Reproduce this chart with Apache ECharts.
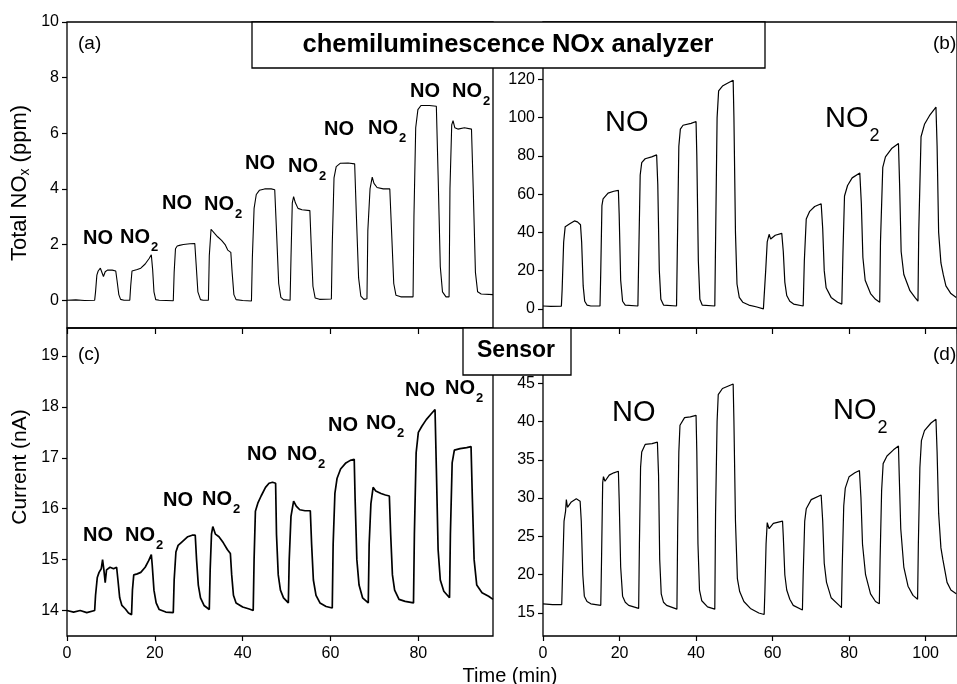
<!DOCTYPE html>
<html>
<head>
<meta charset="utf-8">
<script src="https://cdn.jsdelivr.net/npm/echarts@6/dist/echarts.min.js"></script>
<style>
  html, body { margin: 0; padding: 0; background: #fff; }
  #chart { width: 957px; height: 684px; }
</style>
</head>
<body>
<div id="chart"></div>
<script>
// ---- Data: [time (min), value] ----
// (a) chemiluminescence analyzer, alternating NO / NO2 pulses, total NOx in ppm
const analyzerLow = [
  [0,0],[2,0.01],[4,-0.01],[6.3,0],
  [6.5,0.3],[6.8,0.9],[7.1,1.05],[7.6,1.15],[7.9,1.12],[8.3,0.85],[8.7,1.02],[9.2,1.08],[10.3,1.08],[11.1,1.05],[11.4,0.7],[11.8,0.2],[12.2,0.03],[13,0],[14.3,0],
  [14.5,0.5],[14.8,1.05],[15.2,1.12],[16,1.1],[16.8,1.15],[17.8,1.3],[18.7,1.5],[19.2,1.63],[19.5,1.1],[19.8,0.3],[20.2,0.02],[21,0],[24.2,-0.02],
  [24.4,1.0],[24.7,1.85],[25.1,1.95],[25.6,1.97],[26.5,2.0],[28,2.03],[29.1,2.04],[29.4,1.3],[29.8,0.3],[30.4,0.02],[31,0],[32.2,0],
  [32.4,1.6],[32.8,2.55],[33.1,2.6],[33.6,2.4],[34.3,2.28],[35.2,2.15],[36,2.0],[36.6,1.8],[37.3,1.72],[37.6,1.0],[38,0.2],[38.5,0.02],[40,-0.01],[42,-0.03],
  [42.2,1.5],[42.6,3.3],[43.1,3.8],[43.8,3.95],[45,4.0],[46.5,4.0],[47.3,3.97],[47.7,2.5],[48.2,0.6],[48.7,0.1],[49.3,0.02],[50.8,0],
  [51,1.5],[51.3,3.5],[51.6,3.72],[52,3.5],[52.6,3.3],[53.5,3.25],[55.3,3.22],[55.6,2.0],[56,0.5],[56.5,0.08],[57.5,0.03],[60.2,0.04],
  [60.4,2],[60.8,4.4],[61.3,4.8],[62.2,4.92],[64,4.93],[65.5,4.9],[65.9,3.0],[66.4,0.8],[66.9,0.15],[67.6,0.03],[68.3,0.05],
  [68.5,2.5],[69.0,4.0],[69.5,4.42],[69.9,4.2],[70.6,4.05],[72,4.0],[73.5,4.0],[73.9,2.5],[74.4,0.6],[74.9,0.18],[76,0.12],[78.8,0.12],
  [79.0,3],[79.4,6.2],[79.9,6.85],[80.6,7.0],[82.5,7.0],[84.1,6.97],[84.5,4.5],[85,1.2],[85.5,0.3],[86.3,0.12],[87,0.12],
  [87.2,4],[87.6,6.3],[87.9,6.45],[88.3,6.2],[89,6.15],[90.5,6.2],[92.1,6.15],[92.5,4.0],[93,1.0],[93.5,0.3],[94.3,0.22],[97,0.2]
];

// (b) chemiluminescence analyzer, NO series then NO2 series, ppm
const analyzerHigh = [
  [0,1.5],[2,1.3],[4.8,1.4],
  [5.0,10],[5.4,35],[5.8,43],[6.2,42.5],[7,44.5],[8.2,46],[9,45.5],[9.8,44],[10.1,35],[10.5,12],[10.9,4],[11.5,2],[12.5,1.5],[14.9,1.5],
  [15.1,20],[15.4,54],[15.7,57.5],[16,58.5],[17,60.5],[18.5,61.5],[19.7,62],[19.9,50],[20.3,15],[20.8,4],[21.5,2],[24.8,1.5],
  [25,25],[25.4,70],[25.8,76.5],[26.7,78.5],[28.4,79.5],[29.7,80.5],[30.0,65],[30.4,20],[30.8,5],[31.5,2],[34.9,1.5],
  [35.1,30],[35.5,85],[35.9,94],[36.6,96],[38.7,97],[40,98],[40.2,80],[40.6,25],[41,5],[41.6,2],[44.9,1.5],
  [45.1,35],[45.5,100],[45.9,114],[46.9,116.5],[48.2,118],[49.7,119.5],[49.9,100],[50.3,40],[50.7,13],[51.3,6],[52.2,3.5],[53.8,2],[55.9,1],[57.6,0],
  [58.2,20],[58.6,35],[59.1,39],[59.5,36.5],[60.7,38.5],[62.4,39.5],[62.8,30],[63.2,14],[63.7,7],[64.5,4],[65.5,2.5],[68,1.5],
  [68.3,25],[68.8,47],[69.7,51],[71,53.5],[72.7,55],[73.1,42],[73.5,20],[74,11],[75.3,6],[77,3.5],[78.1,2.5],
  [78.4,30],[78.8,59],[79.6,64.5],[80.8,68.5],[82.8,71],[83.2,55],[83.6,27],[84.2,15],[85.6,8],[86.9,5],[88,3.5],
  [88.2,35],[88.8,74],[89.5,79.5],[91.2,84],[92.9,86.5],[93.2,65],[93.6,30],[94.3,18],[95.9,9.5],[97.2,6],[98,4],
  [98.2,40],[98.8,90],[99.7,96.5],[101,101],[102.7,105.5],[103,85],[103.4,40],[104,24],[104.6,18],[105.3,12],[106.6,8],[108,6]
];

// (c) sensor current, alternating NO / NO2 pulses, nA
const sensorLow = [
  [0,14.0],[1.5,13.97],[3,14.0],[4.5,13.96],[6.3,14.0],
  [6.5,14.3],[6.9,14.65],[7.3,14.75],[7.8,14.82],[8.1,15.0],[8.4,14.8],[8.7,14.55],[9.0,14.8],[9.8,14.85],[10.6,14.82],[11.3,14.85],[11.6,14.6],[12.0,14.25],[12.5,14.1],[13.3,14.03],[14.0,13.95],[14.7,13.92],
  [14.9,14.4],[15.2,14.7],[16,14.72],[16.8,14.75],[17.8,14.85],[18.6,14.98],[19.2,15.1],[19.4,14.9],[19.8,14.4],[20.3,14.15],[21,14.02],[22.5,13.97],[24.2,13.96],
  [24.4,14.6],[24.8,15.15],[25.3,15.28],[26.2,15.35],[27.5,15.45],[28.5,15.48],[29.2,15.48],[29.5,15.0],[29.9,14.5],[30.4,14.25],[31.2,14.1],[32.4,14.02],
  [32.6,14.8],[32.9,15.5],[33.2,15.65],[33.8,15.5],[34.6,15.45],[35.6,15.33],[36.5,15.2],[37.2,15.12],[37.5,14.7],[37.9,14.3],[38.5,14.15],[40,14.07],[41.5,14.03],[42.4,14.0],
  [42.6,15.0],[42.9,15.95],[43.5,16.12],[44.2,16.25],[45.2,16.42],[46.0,16.5],[46.8,16.52],[47.5,16.5],[47.7,15.5],[48.1,14.7],[48.6,14.4],[49.3,14.25],[50.4,14.15],
  [50.6,15.0],[51.0,15.85],[51.6,16.15],[52.2,16.05],[53,15.98],[54.2,15.96],[55.4,15.96],[55.7,15.3],[56.1,14.6],[56.7,14.3],[57.6,14.15],[59,14.08],[60.4,14.05],
  [60.6,15.3],[61.0,16.3],[61.5,16.6],[62.3,16.78],[63.5,16.9],[64.5,16.95],[65.4,16.97],[65.6,16.2],[66.0,15.0],[66.5,14.5],[67.3,14.25],[68.6,14.15],
  [68.8,15.3],[69.2,16.1],[69.7,16.42],[70.3,16.35],[71.5,16.3],[72.5,16.27],[73.4,16.25],[73.7,15.5],[74.1,14.7],[74.6,14.4],[75.6,14.22],[77,14.18],[78.9,14.15],
  [79.1,15.5],[79.5,17.1],[80,17.5],[80.8,17.62],[81.8,17.75],[82.8,17.85],[83.8,17.95],[84.1,16.8],[84.5,15.2],[85,14.6],[85.8,14.38],[87.1,14.25],
  [87.3,15.5],[87.7,16.9],[88.2,17.15],[89.5,17.18],[91,17.2],[92,17.22],[92.3,16.2],[92.7,15.0],[93.3,14.5],[94.5,14.35],[96,14.28],[97,14.22]
];

// (d) sensor current, NO series then NO2 series, nA
const sensorHigh = [
  [0,16.2],[2.5,16.1],[4.9,16.1],
  [5.1,20],[5.5,27],[5.9,28.3],[6.1,29.8],[6.4,28.8],[7.4,29.5],[8.7,29.9],[9.7,29.6],[10.0,27],[10.4,20],[10.8,17.2],[11.5,16.5],[12.5,16.2],[15.1,16.0],
  [15.3,22],[15.6,32],[15.8,32.8],[16.2,32.2],[17.3,33],[18.5,33.3],[19.7,33.5],[19.9,30],[20.3,21],[20.8,17.2],[21.5,16.4],[22.4,16],[25,15.6],
  [25.2,24],[25.5,34],[25.8,36],[26.7,37],[28.5,37.1],[29.9,37.3],[30.2,33],[30.5,22],[30.9,17.5],[31.5,16.4],[32.3,16],[35,15.5],
  [35.2,26],[35.5,36],[35.8,39.5],[37,40.5],[38.5,40.6],[40,40.8],[40.2,36],[40.5,24],[40.9,18],[41.5,16.6],[43,15.8],[44.9,15.5],
  [45.1,28],[45.5,40],[45.8,43.5],[46.9,44.3],[48.3,44.6],[49.7,44.9],[49.9,40],[50.3,27],[50.8,19.5],[51.4,17.8],[52.5,16.5],[54.2,15.6],[56.4,15],[57.8,14.8],
  [58,18],[58.3,24],[58.6,26.8],[59.1,26],[60.2,26.7],[62.6,27],[62.8,25],[63.2,20],[63.7,18],[64.5,16.8],[65.4,16],[67.8,15.4],
  [68,20],[68.4,27],[68.8,28.6],[70.1,29.8],[72.7,30.4],[73.1,27],[73.5,21.5],[74.1,19],[75.3,17],[77.4,16],[78,15.7],
  [78.2,21],[78.6,29],[79,31.3],[80,32.8],[81.5,33.3],[82.7,33.6],[83.1,30],[83.5,24],[84.3,20],[85.6,17.5],[86.9,16.5],[87.9,16.2],
  [88.1,22],[88.5,31],[88.9,34.5],[89.9,35.5],[91.6,36.3],[92.9,36.8],[93.1,33],[93.5,26],[94.3,21],[95.4,18.5],[96.7,17.3],[97.9,16.8],
  [98.1,24],[98.5,34],[98.9,37.5],[99.7,38.8],[101.4,39.8],[102.7,40.3],[103,36],[103.4,28],[104,23.5],[104.5,22],[105.6,19],[106.6,18],[108,17.5]
];

// Tick values for each y axis
const ticksA = [0, 2, 4, 6, 8, 10];
const ticksB = [0, 20, 40, 60, 80, 100, 120];
const ticksC = [14, 15, 16, 17, 18, 19];
const ticksD = [15, 20, 25, 30, 35, 40, 45];

// ---- Layout ----
const FONT = '"Liberation Sans", Arial, Helvetica, sans-serif';
const INK = '#000';
const measureCtx = document.createElement('canvas').getContext('2d');
function textWidth(str, size, weight) {
  measureCtx.font = (weight || 'normal') + ' ' + size + 'px ' + FONT;
  return measureCtx.measureText(str).width;
}
function txt(x, y, str, size, weight, align) {
  return {
    type: 'text', x: x, y: y, z: 100,
    style: {
      text: str, fill: INK, fontSize: size, fontWeight: weight || 'normal', fontFamily: FONT,
      textAlign: align || 'left', textVerticalAlign: 'middle', verticalAlign: 'middle'
    }
  };
}
// Chemical formula with a subscript: main text from the left edge, subscript lowered
function formula(left, midY, main, sub, size, subSize, subDy, weight) {
  const items = [txt(left, midY, main, size, weight)];
  if (sub) {
    const w = textWidth(main, size, weight);
    items.push(txt(left + w + 1, midY + subDy, sub, subSize, weight));
  }
  return items;
}
// Vertical axis title (reads bottom to top) built from pieces so the subscript can be lowered
function verticalTitle(cx, cy, pieces, size) {
  let total = 0;
  pieces.forEach(p => { p.w = textWidth(p.t, p.size || size); total += p.w; });
  let x = -total / 2;
  const children = pieces.map(p => {
    const el = txt(x, p.dy || 0, p.t, p.size || size);
    x += p.w;
    return el;
  });
  return { type: 'group', x: cx, y: cy, rotation: Math.PI / 2, z: 100, children: children };
}

const grids = [
  { left: 67, top: 22, width: 426, height: 306 },   // (a)
  { left: 543, top: 22, width: 420, height: 306 },  // (b)
  { left: 67, top: 328, width: 426, height: 308 },  // (c)
  { left: 543, top: 328, width: 420, height: 308 }  // (d)
].map(g => Object.assign(g, { show: true, borderColor: INK, borderWidth: 1.3, backgroundColor: 'transparent', containLabel: false }));

const labelStyle = { color: INK, fontSize: 16, fontFamily: FONT };
function hiddenX(grid, max) {
  return { gridIndex: grid, type: 'value', min: 0, max: max, show: false };
}
function bottomX(grid, max) {
  return {
    gridIndex: grid, type: 'value', min: 0, max: max, interval: 20, position: 'bottom',
    axisLine: { show: false }, splitLine: { show: false },
    axisTick: { show: true, inside: false, length: 5, lineStyle: { color: INK, width: 1.2 } },
    axisLabel: Object.assign({ margin: 10, showMaxLabel: false }, labelStyle)
  };
}
function topX(grid, max) {
  return {
    gridIndex: grid, type: 'value', min: 0, max: max, interval: 20, position: 'top',
    axisLine: { show: false }, splitLine: { show: false },
    axisTick: { show: true, inside: true, length: 6, lineStyle: { color: INK, width: 1.2 } },
    axisLabel: { show: false }
  };
}
function leftY(grid, min, max, ticks) {
  return {
    gridIndex: grid, type: 'value', min: min, max: max,
    axisLine: { show: false }, splitLine: { show: false },
    axisTick: { show: true, inside: false, length: 5, customValues: ticks, lineStyle: { color: INK, width: 1.2 } },
    axisLabel: Object.assign({ margin: 8, customValues: ticks, showMinLabel: true, showMaxLabel: true }, labelStyle)
  };
}

function lineSeries(x, y, data, width) {
  return {
    type: 'line', xAxisIndex: x, yAxisIndex: y, data: data,
    showSymbol: false, symbol: 'none', smooth: false, clip: true,
    lineStyle: { color: INK, width: width }, itemStyle: { color: INK },
    emphasis: { disabled: true }, silent: true
  };
}

const graphics = [
  // header boxes
  { type: 'rect', z: 90, shape: { x: 252, y: 22, width: 513, height: 46 },
    style: { fill: '#fff', stroke: INK, lineWidth: 1.3 } },
  txt(508, 45, 'chemiluminescence NOx analyzer', 25.5, 'bold', 'center'),
  { type: 'rect', z: 90, shape: { x: 463, y: 328, width: 108, height: 47 },
    style: { fill: '#fff', stroke: INK, lineWidth: 1.3 } },
  txt(516, 351, 'Sensor', 23, 'bold', 'center'),
  // panel tags
  txt(78, 44, '(a)', 19), txt(933, 44, '(b)', 19),
  txt(78, 355, '(c)', 19), txt(933, 355, '(d)', 19),
  // axis titles
  verticalTitle(20, 183, [{ t: 'Total NO' }, { t: 'x', size: 14, dy: 5 }, { t: ' (ppm)' }], 22),
  verticalTitle(20, 467, [{ t: 'Current (nA)' }], 21),
  txt(510, 676, 'Time (min)', 20, 'normal', 'center')
];

// gas labels over the pulses in (a) and (c)
const smallLabels = [
  [83, 238, ''], [120, 237, '2'], [162, 203, ''], [204, 204, '2'], [245, 163, ''], [288, 166, '2'],
  [324, 129, ''], [368, 128, '2'], [410, 91, ''], [452, 91, '2'],
  [83, 535, ''], [125, 535, '2'], [163, 500, ''], [202, 499, '2'], [247, 454, ''], [287, 454, '2'],
  [328, 425, ''], [366, 423, '2'], [405, 390, ''], [445, 388, '2']
];
smallLabels.forEach(l => graphics.push(...formula(l[0], l[1], 'NO', l[2], 20, 13, 10, 'bold')));
// gas labels in (b) and (d)
graphics.push(...formula(605, 123, 'NO', '', 29, 18, 17));
graphics.push(...formula(825, 119, 'NO', '2', 29, 18, 17));
graphics.push(...formula(612, 413, 'NO', '', 29, 18, 17));
graphics.push(...formula(833, 411, 'NO', '2', 29, 18, 17));

const chart = echarts.init(document.getElementById('chart'), null, { renderer: 'canvas', width: 957, height: 684 });
chart.setOption({
  animation: false,
  backgroundColor: '#fff',
  textStyle: { fontFamily: FONT },
  grid: grids,
  xAxis: [
    hiddenX(0, 97), hiddenX(1, 108.2),
    bottomX(2, 97), topX(2, 97),
    bottomX(3, 108.2), topX(3, 108.2)
  ],
  yAxis: [
    leftY(0, -1, 10, ticksA),
    leftY(1, -10, 150, ticksB),
    leftY(2, 13.5, 19.55, ticksC),
    leftY(3, 12, 52.2, ticksD)
  ],
  series: [
    lineSeries(0, 0, analyzerLow, 1.1),
    lineSeries(1, 1, analyzerHigh, 1.2),
    lineSeries(2, 2, sensorLow, 1.7),
    lineSeries(4, 3, sensorHigh, 1.2)
  ],
  graphic: graphics
});
</script>
</body>
</html>
